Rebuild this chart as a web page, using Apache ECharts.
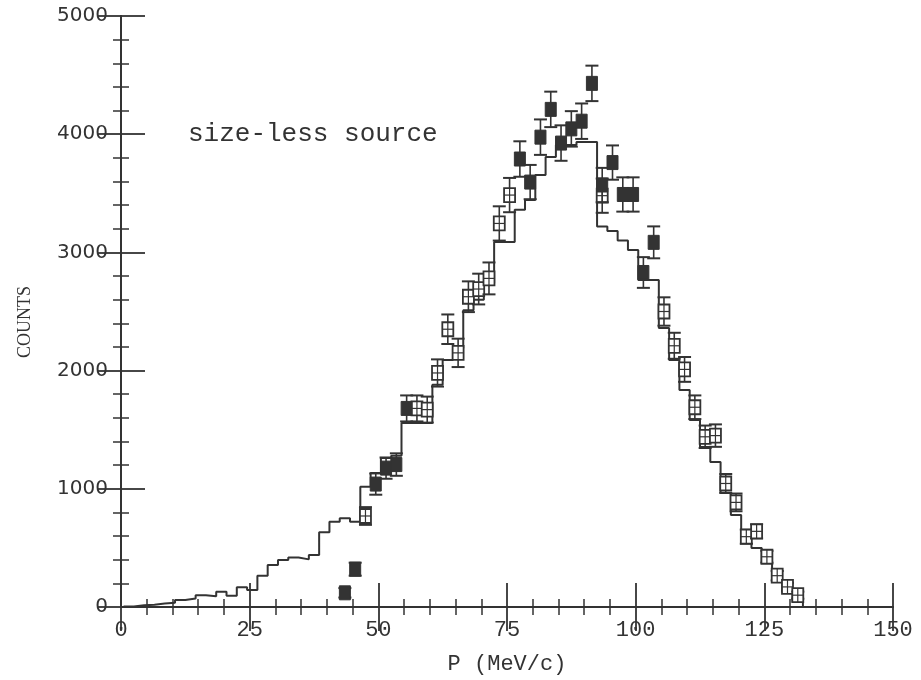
<!DOCTYPE html>
<html>
<head>
<meta charset="utf-8">
<script src="https://cdn.jsdelivr.net/npm/echarts@6/dist/echarts.min.js"></script>
<style>
html,body{margin:0;padding:0;background:#fff;}
#chart{width:921px;height:680px;}
</style>
</head>
<body>
<div id="chart"></div>
<script>
// ---- data ----
const xTicks = [0, 25, 50, 75, 100, 125, 150];
const yTicks = [0, 1000, 2000, 3000, 4000, 5000];

// Monte-Carlo histogram: bins 2 MeV/c wide, first bin starts at 0.5
const histStart = 0.5;
const histWidth = 2;
const histCounts = [
  5, 15, 20, 30, 35, 60, 72, 100, 90, 130,
  96, 167, 144, 265, 355, 398, 418, 403, 440, 632,
  722, 750, 722, 1018, 1133, 1260, 1280, 1557, 1557, 1557,
  1880, 2090, 2190, 2510, 2600, 2740, 3088, 3088, 3360, 3443,
  3655, 3807, 3909, 3909, 3934, 3934, 3220, 3180, 3100, 3020,
  2766, 2766, 2360, 2090, 1836, 1582, 1354, 1227, 964, 778,
  541, 500, 372, 228, 127, 42
];

// filled squares
const filledP = [43.5, 45.5, 49.5, 51.5, 53.5, 55.5, 77.5, 79.5, 81.5, 83.5, 85.5, 87.5, 89.5, 91.5, 93.5, 95.5, 97.5, 99.5, 101.5, 103.5];
const filledCounts = [120, 320, 1040, 1175, 1205, 1680, 3790, 3595, 3975, 4210, 3925, 4045, 4110, 4430, 3570, 3760, 3490, 3490, 2830, 3085];
const filledErr = [40, 55, 90, 90, 95, 110, 150, 145, 150, 150, 150, 150, 150, 150, 145, 145, 145, 145, 130, 135];

// open squares
const openP = [47.5, 57.5, 59.5, 61.5, 63.5, 65.5, 67.5, 69.5, 71.5, 73.5, 75.5, 93.5, 105.5, 107.5, 109.5, 111.5, 113.5, 115.5, 117.5, 119.5, 121.5, 123.5, 125.5, 127.5, 129.5, 131.5];
const openCounts = [770, 1680, 1670, 1980, 2350, 2150, 2625, 2690, 2780, 3245, 3485, 3480, 2500, 2210, 2010, 1690, 1440, 1450, 1045, 885, 595, 640, 425, 265, 170, 100];
const openErr = [75, 110, 110, 115, 125, 120, 130, 130, 135, 145, 145, 145, 120, 110, 105, 100, 95, 95, 80, 75, 60, 60, 50, 40, 35, 30];

const labelText = 'size-less source';
const xName = 'P (MeV/c)';
const yName = 'COUNTS';

// ---- build ----
const INK = '#333';
const histData = histCounts.map((v, i) => [histStart + i * histWidth, v]);
histData.push([histStart + histCounts.length * histWidth, 0]);

const filledData = filledP.map((p, i) => [p, filledCounts[i], filledErr[i]]);
const openData = openP.map((p, i) => [p, openCounts[i], openErr[i]]);

function errGroup(api, open) {
  const x = api.value(0), y = api.value(1), e = api.value(2);
  const c = api.coord([x, y]);
  const t = api.coord([x, y + e]);
  const b = api.coord([x, y - e]);
  const capW = 6.5, bw = 5.5, bh = 7;
  const ls = {stroke: INK, lineWidth: 1.6};
  const kids = [
    {type: 'line', shape: {x1: c[0], y1: t[1], x2: c[0], y2: b[1]}, style: ls},
    {type: 'line', shape: {x1: c[0] - capW, y1: t[1], x2: c[0] + capW, y2: t[1]}, style: {stroke: INK, lineWidth: 2}},
    {type: 'line', shape: {x1: c[0] - capW, y1: b[1], x2: c[0] + capW, y2: b[1]}, style: {stroke: INK, lineWidth: 2}}
  ];
  if (open) {
    kids.push({type: 'rect', shape: {x: c[0] - bw, y: c[1] - bh, width: 2 * bw, height: 2 * bh}, style: {fill: '#fff', stroke: INK, lineWidth: 1.8}});
    kids.push({type: 'line', shape: {x1: c[0], y1: c[1] - bh, x2: c[0], y2: c[1] + bh}, style: {stroke: INK, lineWidth: 1.2}});
    kids.push({type: 'line', shape: {x1: c[0] - bw, y1: c[1], x2: c[0] + bw, y2: c[1]}, style: {stroke: INK, lineWidth: 1.2}});
  } else {
    kids.push({type: 'rect', shape: {x: c[0] - bw, y: c[1] - bh, width: 2 * bw, height: 2 * bh}, style: {fill: INK, stroke: INK, lineWidth: 1}});
  }
  return {type: 'group', children: kids};
}

const axisCommon = {
  type: 'value',
  axisLine: {show: true, lineStyle: {color: INK, width: 2}},
  axisTick: {show: true, inside: true, length: 24, lineStyle: {color: INK, width: 1.8}},
  minorTick: {show: true, splitNumber: 5, length: 8, lineStyle: {color: INK, width: 1.5}},
  splitLine: {show: false},
  minorSplitLine: {show: false}
};

const chart = echarts.init(document.getElementById('chart'), null, {renderer: 'canvas'});
chart.setOption({
  animation: false,
  backgroundColor: '#fff',
  grid: {left: 121, right: 28, top: 16, bottom: 73, containLabel: false},
  xAxis: [
    Object.assign({}, axisCommon, {
      position: 'bottom', min: xTicks[0], max: xTicks[xTicks.length - 1], interval: 25,
      axisLabel: {show: true, margin: 12, color: INK, fontFamily: 'Liberation Mono', fontSize: 22},
      name: xName, nameLocation: 'middle', nameGap: 46,
      nameTextStyle: {color: INK, fontFamily: 'Liberation Mono', fontSize: 22}
    }),
    Object.assign({}, axisCommon, {
      position: 'top', min: xTicks[0], max: xTicks[xTicks.length - 1], interval: 25,
      axisLabel: {show: false}
    })
  ],
  yAxis: [
    Object.assign({}, axisCommon, {
      position: 'left', min: yTicks[0], max: yTicks[yTicks.length - 1], interval: 1000,
      axisLabel: {show: true, margin: 13, color: INK, fontFamily: 'DejaVu Sans', fontSize: 20,
                  formatter: v => String(v)}
    }),
    Object.assign({}, axisCommon, {
      position: 'right', min: yTicks[0], max: yTicks[yTicks.length - 1], interval: 1000,
      axisLabel: {show: false}
    })
  ],
  graphic: [
    {type: 'text', left: 188, top: 121, style: {text: labelText, fill: INK, fontSize: 26, fontFamily: 'Liberation Mono'}},
    {type: 'text', x: 16, y: 358, rotation: Math.PI / 2,
     style: {text: yName, fill: INK, fontSize: 18, fontFamily: 'Liberation Serif'}}
  ],
  series: [
    {
      type: 'line', step: 'end', data: histData, showSymbol: false, symbol: 'none',
      lineStyle: {color: INK, width: 2}, z: 2
    },
    {
      type: 'custom', data: openData, z: 3,
      renderItem: (params, api) => errGroup(api, true)
    },
    {
      type: 'custom', data: filledData, z: 4,
      renderItem: (params, api) => errGroup(api, false)
    }
  ]
});
</script>
</body>
</html>
